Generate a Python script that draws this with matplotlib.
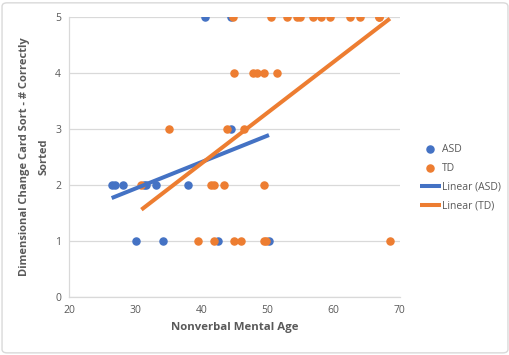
import numpy as np
import matplotlib.pyplot as plt
from matplotlib.patches import FancyBboxPatch

plt.rcParams['font.family'] = ['Open Sans', 'DejaVu Sans']

# ASD group: nonverbal mental age vs. number correctly sorted
asd_age = [40.5, 44.4, 44.4, 26.4, 26.9, 28.1, 31.3, 31.6, 33.1, 38.0, 30.1, 34.1, 42.5, 50.2]
asd_score = [5, 5, 3, 2, 2, 2, 2, 2, 2, 2, 1, 1, 1, 1]

# TD group
td_age = [44.8, 50.5, 53.0, 54.4, 54.9, 56.9, 58.0, 59.5, 62.5, 63.9, 66.9, 66.9,
          44.9, 47.8, 48.4, 49.5, 51.4,
          35.0, 43.9, 46.4,
          30.9, 41.5, 41.9, 43.4, 49.5,
          39.5, 41.9, 44.9, 45.9, 49.4, 49.7, 68.5]
td_score = [5, 5, 5, 5, 5, 5, 5, 5, 5, 5, 5, 5,
            4, 4, 4, 4, 4,
            3, 3, 3,
            2, 2, 2, 2, 2,
            1, 1, 1, 1, 1, 1, 1]

blue = '#4472C4'
orange = '#ED7D31'
grey = '#595959'

fig = plt.figure(figsize=(5.1, 3.55), dpi=100)
ax = fig.add_axes([0.136, 0.163, 0.648, 0.789])

ax.scatter(asd_age, asd_score, s=26, color=blue, zorder=3, label='ASD')
ax.scatter(td_age, td_score, s=26, color=orange, zorder=3, label='TD')

# linear trendlines fitted to each group
for xs, ys, c, lab in [(asd_age, asd_score, blue, 'Linear (ASD)'),
                       (td_age, td_score, orange, 'Linear (TD)')]:
    m, b = np.polyfit(xs, ys, 1)
    xx = np.array([min(xs), max(xs)])
    ax.plot(xx, m * xx + b, color=c, lw=2.9, solid_capstyle='butt', zorder=4, label=lab)

ax.set_xlim(20, 70)
ax.set_ylim(0, 5)
ax.set_xticks(range(20, 71, 10))
ax.set_yticks(range(0, 6))
ax.grid(axis='y', color='#D9D9D9', lw=0.9)
ax.set_axisbelow(True)
for s in ['top', 'right']:
    ax.spines[s].set_visible(False)
for s in ['left', 'bottom']:
    ax.spines[s].set_color('#D9D9D9')
    ax.spines[s].set_linewidth(0.9)
ax.tick_params(length=0, labelsize=7.5, labelcolor=grey, pad=6)

ax.set_xlabel('Nonverbal Mental Age', fontsize=8.2, fontweight='bold', color=grey, labelpad=4)
ax.set_ylabel('Dimensional Change Card Sort - # Correctly\nSorted', fontsize=8,
              fontweight='bold', color=grey, linespacing=2.1)
ax.yaxis.set_label_coords(-0.06, 0.5)

ax.legend(loc='center left', bbox_to_anchor=(1.032, 0.427), frameon=False, fontsize=7.5,
          labelcolor=grey, handlelength=2.0, handletextpad=0.1, labelspacing=0.75)

fig.patches.append(FancyBboxPatch((0.004, 0.006), 0.992, 0.986, boxstyle='round,pad=0,rounding_size=0.01',
                                  transform=fig.transFigure, fill=False, edgecolor='#D9D9D9', lw=1))

fig.savefig('out.png', dpi=100)
